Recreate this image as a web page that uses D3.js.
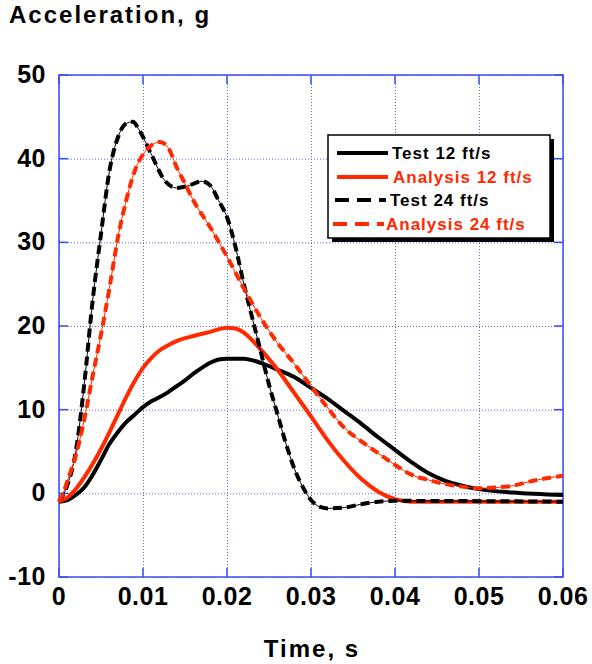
<!DOCTYPE html>
<html>
<head>
<meta charset="utf-8">
<script src="https://cdn.jsdelivr.net/npm/d3@7"></script>
<style>
  body { margin: 0; background: #fff; }
  svg { font-family: "Liberation Sans", Arial, sans-serif; font-weight: bold; }
  .grid line { stroke: #5566ee; stroke-width: 1; stroke-dasharray: 1,2; }
  .grid path { display: none; }
  .tick-lbl { font-size: 25px; fill: #000; letter-spacing: 0.5px; }
</style>
</head>
<body>
<svg id="chart" width="592" height="664"></svg>
<script>
const width = 592;
const height = 664;

const xTicks = [0, 0.01, 0.02, 0.03, 0.04, 0.05, 0.06];
const xTickLabels = ["0", "0.01", "0.02", "0.03", "0.04", "0.05", "0.06"];
const yTicks = [-10, 0, 10, 20, 30, 40, 50];

const seriesNames = ["Test 12 ft/s", "Analysis 12 ft/s", "Test 24 ft/s", "Analysis 24 ft/s"];

const test12T = [0, 0.001, 0.002, 0.003, 0.004, 0.005, 0.006, 0.007, 0.008, 0.009, 0.010, 0.011, 0.012, 0.013, 0.014, 0.015, 0.016, 0.017, 0.018, 0.019, 0.020, 0.022, 0.024, 0.026, 0.028, 0.030, 0.032, 0.034, 0.036, 0.038, 0.040, 0.042, 0.044, 0.046, 0.048, 0.050, 0.054, 0.060];
const test12V = [-1, -0.8, -0.2, 0.7, 2.2, 4, 5.9, 7.3, 8.5, 9.4, 10.3, 11, 11.5, 12.1, 12.8, 13.5, 14.3, 15, 15.6, 16, 16.1, 16.1, 15.6, 14.8, 13.9, 12.6, 11.3, 9.8, 8.3, 6.7, 5.2, 3.7, 2.4, 1.5, 0.9, 0.5, 0.1, -0.2];

const analysis12T = [0, 0.001, 0.002, 0.003, 0.004, 0.005, 0.006, 0.007, 0.008, 0.009, 0.010, 0.011, 0.012, 0.013, 0.014, 0.016, 0.018, 0.020, 0.021, 0.022, 0.023, 0.024, 0.026, 0.028, 0.030, 0.032, 0.034, 0.036, 0.038, 0.040, 0.042, 0.050, 0.060];
const analysis12V = [-1, -0.5, 0.5, 1.9, 3.5, 5.3, 7.3, 9.4, 11.5, 13.4, 15, 16.2, 17.1, 17.7, 18.2, 18.8, 19.3, 19.8, 19.7, 19.2, 18.3, 17.2, 14.8, 12, 9.2, 6.3, 3.8, 1.7, 0.2, -0.7, -1, -1, -1];

const test24T = [0, 0.001, 0.002, 0.003, 0.004, 0.005, 0.006, 0.007, 0.008, 0.0088, 0.0095, 0.011, 0.0125, 0.014, 0.0155, 0.017, 0.018, 0.019, 0.020, 0.021, 0.022, 0.023, 0.024, 0.025, 0.026, 0.027, 0.028, 0.029, 0.030, 0.031, 0.032, 0.034, 0.036, 0.038, 0.040, 0.060];
const test24V = [-1, 1, 5, 13, 23, 31, 38.5, 42.5, 44.2, 44.4, 43.5, 40.5, 37.5, 36.5, 36.8, 37.3, 36.8, 35, 33, 29.5, 25, 21, 17, 13, 9.5, 6, 3, 0.8, -0.8, -1.6, -1.8, -1.7, -1.3, -1.0, -0.9, -1.0];

const analysis24T = [0, 0.0005, 0.001, 0.002, 0.003, 0.004, 0.005, 0.006, 0.007, 0.008, 0.009, 0.010, 0.011, 0.012, 0.013, 0.014, 0.015, 0.016, 0.018, 0.020, 0.022, 0.024, 0.026, 0.028, 0.030, 0.032, 0.034, 0.036, 0.038, 0.040, 0.042, 0.044, 0.046, 0.048, 0.050, 0.052, 0.054, 0.056, 0.058, 0.060];
const analysis24V = [-1, 0, 1.5, 4.5, 8.8, 14, 19, 24.5, 30.5, 35, 38.5, 40.5, 41.6, 42, 41.3, 39, 37, 35, 31.8, 28.3, 24.5, 21, 18, 15.5, 12.8, 10.2, 7.8, 6.2, 4.8, 3.4, 2.2, 1.6, 1.1, 0.8, 0.6, 0.7, 0.9, 1.4, 1.8, 2.1];

const red = "#ff2a00";
const frameBlue = "#3a4ff0";

const plot = { left: 59, right: 563, top: 75, bottom: 577 };

const svg = d3.select("#chart");

const xScale = d3.scaleLinear().domain([0, 0.06]).range([plot.left, plot.right]);
const yScale = d3.scaleLinear().domain([-10, 50]).range([plot.bottom, plot.top]);

// dotted grid
svg.append("g")
  .attr("class", "grid")
  .attr("transform", `translate(0,${plot.bottom})`)
  .call(d3.axisBottom(xScale).tickValues(xTicks).tickSize(-(plot.bottom - plot.top)).tickFormat(""));
svg.append("g")
  .attr("class", "grid")
  .attr("transform", `translate(${plot.left},0)`)
  .call(d3.axisLeft(yScale).tickValues(yTicks).tickSize(-(plot.right - plot.left)).tickFormat(""));

// inward tick marks on all four sides
const tickLen = 9;
const frame = svg.append("g").attr("stroke", frameBlue).attr("stroke-width", 1.5);
yTicks.forEach((v) => {
  frame.append("line").attr("x1", plot.left).attr("x2", plot.left + tickLen).attr("y1", yScale(v)).attr("y2", yScale(v));
  frame.append("line").attr("x1", plot.right - tickLen).attr("x2", plot.right).attr("y1", yScale(v)).attr("y2", yScale(v));
});
xTicks.forEach((v) => {
  frame.append("line").attr("x1", xScale(v)).attr("x2", xScale(v)).attr("y1", plot.top).attr("y2", plot.top + tickLen);
  frame.append("line").attr("x1", xScale(v)).attr("x2", xScale(v)).attr("y1", plot.bottom - tickLen).attr("y2", plot.bottom);
});
frame.append("rect")
  .attr("x", plot.left).attr("y", plot.top)
  .attr("width", plot.right - plot.left).attr("height", plot.bottom - plot.top)
  .attr("fill", "none");

// tick labels
svg.append("g").selectAll("text").data(yTicks).join("text")
  .attr("class", "tick-lbl")
  .attr("x", 46)
  .attr("y", (d) => yScale(d) + 8)
  .attr("text-anchor", "end")
  .text((d) => d);
svg.append("g").selectAll("text").data(xTicks).join("text")
  .attr("class", "tick-lbl")
  .attr("x", (d) => xScale(d))
  .attr("y", 605)
  .attr("text-anchor", "middle")
  .text((d, i) => xTickLabels[i]);

// axis titles
svg.append("text").attr("x", 9).attr("y", 23).attr("font-size", 24)
  .attr("letter-spacing", 2).text("Acceleration, g");
svg.append("text").attr("x", 312).attr("y", 657).attr("font-size", 24)
  .attr("letter-spacing", 2).attr("text-anchor", "middle").text("Time, s");

// curves
const line = d3.line()
  .x((d) => xScale(d[0]))
  .y((d) => yScale(d[1]))
  .curve(d3.curveMonotoneX);

const series = [
  { t: test12T, v: test12V, color: "#000", dash: null },
  { t: analysis12T, v: analysis12V, color: red, dash: null },
  { t: test24T, v: test24V, color: "#000", dash: "9,5" },
  { t: analysis24T, v: analysis24V, color: red, dash: "9,5" },
];

const curves = svg.append("g").attr("fill", "none");
series.forEach((s) => {
  const pts = s.t.map((t, i) => [t, s.v[i]]);
  if (s.dash) {
    curves.append("path").attr("d", line(pts)).attr("stroke", s.color).attr("stroke-width", 1);
  }
  curves.append("path")
    .attr("d", line(pts))
    .attr("stroke", s.color)
    .attr("stroke-width", 4)
    .attr("stroke-dasharray", s.dash);
});

// legend
const lg = svg.append("g");
lg.append("rect").attr("x", 332).attr("y", 139).attr("width", 222).attr("height", 103).attr("fill", "#000");
lg.append("rect").attr("x", 328).attr("y", 135).attr("width", 222).attr("height", 103)
  .attr("fill", "#fff").attr("stroke", "#000").attr("stroke-width", 1.5);

const legendRows = [
  { y: 153, color: "#000", dash: null, x1: 337, x2: 388, tx: 392 },
  { y: 177, color: red, dash: null, x1: 337, x2: 388, tx: 393 },
  { y: 200, color: "#000", dash: "14,8", x1: 335, x2: 386, tx: 390 },
  { y: 224, color: red, dash: "14,8", x1: 333, x2: 384, tx: 386 },
];
legendRows.forEach((r, i) => {
  lg.append("line").attr("x1", r.x1).attr("x2", r.x2).attr("y1", r.y).attr("y2", r.y)
    .attr("stroke", r.color).attr("stroke-width", 4).attr("stroke-dasharray", r.dash);
  lg.append("text").attr("x", r.tx).attr("y", r.y + 6).attr("font-size", 17)
    .attr("letter-spacing", 1).attr("fill", r.color).text(seriesNames[i]);
});
</script>
</body>
</html>
